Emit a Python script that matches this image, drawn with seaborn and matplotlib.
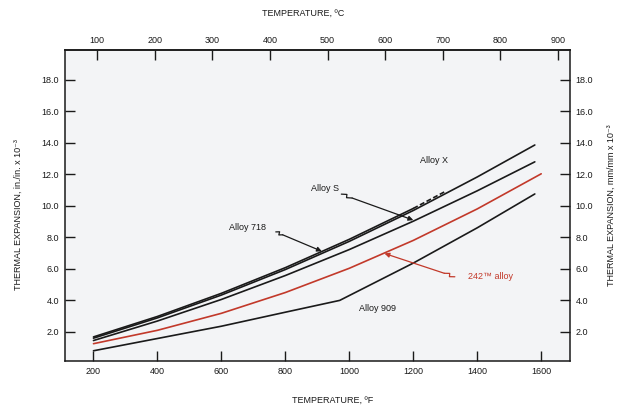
import numpy as np
import pandas as pd
import seaborn as sns
import matplotlib.pyplot as plt

# values (temperature in F, expansion in in./in. x 10^-3)
temp_f = [200, 400, 600, 800, 1000, 1200, 1400, 1580]
alloy_x = [1.60, 2.89, 4.34, 5.96, 7.75, 9.71, 11.84, 13.87]
alloy_s = [1.45, 2.69, 4.06, 5.58, 7.23, 9.03, 10.96, 12.80]

temp_718 = [200, 400, 600, 800, 1000, 1200]
alloy_718 = [1.68, 2.98, 4.45, 6.08, 7.88, 9.84]
temp_718_dash = [1200, 1300]
alloy_718_dash = [9.84, 10.92]

temp_242 = [200, 400, 600, 800, 1000, 1200, 1400, 1600]
alloy_242 = [1.25, 2.10, 3.18, 4.50, 6.04, 7.81, 9.81, 12.04]

temp_909 = [200, 400, 600, 800, 970, 1200, 1400, 1580]
alloy_909 = [0.80, 1.58, 2.36, 3.25, 4.00, 6.37, 8.61, 10.76]

y_ticks = [2, 4, 6, 8, 10, 12, 14, 16, 18]
f_ticks = [200, 400, 600, 800, 1000, 1200, 1400, 1600]
c_ticks = [100, 200, 300, 400, 500, 600, 700, 800, 900]

sns.set_theme(style="ticks")
plt.rcParams['font.family'] = ['Liberation Sans', 'DejaVu Sans']

fig = plt.figure(figsize=(6.18, 4.07), dpi=100)
ax = fig.add_axes([0.1047, 0.113, 0.8176, 0.764])
ax.set_facecolor("#f3f4f6")

black = "#1a1a1a"
red = "#c2392a"
lw = 1.2

sns.lineplot(x=temp_f, y=alloy_x, ax=ax, color=black, lw=lw)
sns.lineplot(x=temp_718, y=alloy_718, ax=ax, color=black, lw=lw)
sns.lineplot(x=temp_718_dash, y=alloy_718_dash, ax=ax, color=black, lw=lw, linestyle=(0, (3, 1.5)))
sns.lineplot(x=temp_f, y=alloy_s, ax=ax, color=black, lw=lw)
sns.lineplot(x=temp_242, y=alloy_242, ax=ax, color=red, lw=lw)
sns.lineplot(x=temp_909, y=alloy_909, ax=ax, color=black, lw=lw)

ax.set_xlim(110, 1690)
ax.set_ylim(0.15, 19.9)
ax.set_xticks(f_ticks)
ax.set_yticks(y_ticks)
ax.set_yticklabels([f"{v:.1f}" for v in y_ticks])
ax.tick_params(direction="in", length=7, width=1, labelsize=6.5, colors=black,
               right=True, labelright=True, pad=4)
for s in ax.spines.values():
    s.set_linewidth(1.1)
    s.set_color(black)

top = ax.secondary_xaxis("top", functions=(lambda f: (f - 32) * 5 / 9, lambda c: c * 9 / 5 + 32))
top.set_xticks(c_ticks)
top.tick_params(direction="in", length=7, width=1, labelsize=6.5, colors=black, pad=4)

# curve labels
txt = dict(fontsize=6.5, color=black, ha="center", va="center")
ax.text(1266, 12.9, "Alloy X", **txt)
ax.text(924, 11.08, "Alloy S", **txt)
ax.text(683, 8.6, "Alloy 718", **txt)
ax.text(1088, 3.5, "Alloy 909", **txt)
ax.text(1440, 5.5, "242\u2122 alloy", fontsize=6.5, color=red, ha="center", va="center")


def leader(start, tip, color):
    # line with a small step near its start, finished with an arrow head
    fig.canvas.draw()
    p0 = ax.transData.transform(start)
    p1 = ax.transData.transform(tip)
    d = p1 - p0
    n = np.array([-d[1], d[0]]) / np.hypot(*d)
    pts = [p0, p0 + d * 0.07 + n * 1.6, p0 + d * 0.08 - n * 1.6, p0 + d * 0.15]
    pts = ax.transData.inverted().transform(np.array(pts))
    ax.plot(pts[:, 0], pts[:, 1], color=color, lw=0.9)
    ax.annotate("", xy=tip, xytext=tuple(pts[-1]),
                arrowprops=dict(arrowstyle="-|>", color=color, lw=0.9,
                                mutation_scale=7, shrinkA=0, shrinkB=0))


leader((975, 10.75), (1200, 9.10), black)
leader((770, 8.35), (914, 7.12), black)
leader((1330, 5.5), (1110, 6.98), red)

fig.text(333 / 618, 1 - 400 / 407, "TEMPERATURE, \u00baF", fontsize=6.5, color=black, ha="center", va="center")
fig.text(303 / 618, 1 - 13 / 407, "TEMPERATURE, \u00baC", fontsize=6.5, color=black, ha="center", va="center")
fig.text(18 / 618, 1 - 215 / 407, "THERMAL EXPANSION, in./in. x 10\u207b\u00b3", fontsize=6.5,
         color=black, rotation=90, ha="center", va="center")
fig.text(611 / 618, 1 - 205 / 407, "THERMAL EXPANSION, mm/mm x 10\u207b\u00b3", fontsize=6.5,
         color=black, rotation=90, ha="center", va="center")

fig.savefig("out.png", dpi=100, facecolor="white")
